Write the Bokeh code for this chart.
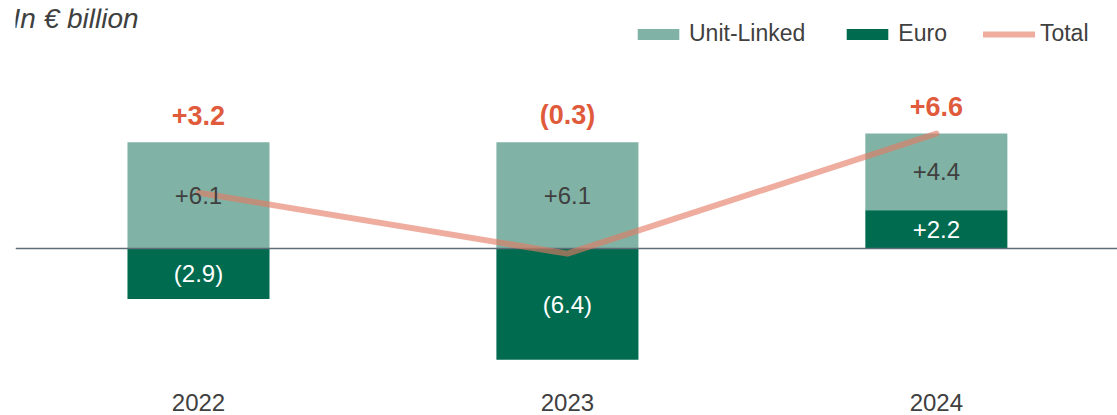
from bokeh.plotting import figure
from bokeh.models import ColumnDataSource, Range1d, FixedTicker, Label, Legend, LegendItem
from bokeh.embed import file_html
from bokeh.resources import INLINE
from bokeh.core.properties import value

# ---- data ----
years = ["2022", "2023", "2024"]
unit_linked = [6.1, 6.1, 4.4]
euro = [-2.9, -6.4, 2.2]
total = [3.2, -0.3, 6.6]

UL_COLOR = "#80B3A5"
EURO_COLOR = "#006B4F"
TOTAL_COLOR = "#E47B63"
LABEL_RED = "#E05A3C"
TEXT_DARK = "#404040"
FONT = "Liberation Sans"


def fmt(v):
    return f"+{v:.1f}" if v >= 0 else f"({abs(v):.1f})"


x = list(range(len(years)))
euro_bottom = [0.0] * len(euro)
euro_top = euro[:]
ul_bottom = [max(e, 0.0) for e in euro]
ul_top = [b + u for b, u in zip(ul_bottom, unit_linked)]

src = ColumnDataSource(dict(
    x=x,
    euro_bottom=euro_bottom, euro_top=euro_top,
    ul_bottom=ul_bottom, ul_top=ul_top,
    euro_mid=[(a + b) / 2 for a, b in zip(euro_bottom, euro_top)],
    ul_mid=[(a + b) / 2 for a, b in zip(ul_bottom, ul_top)],
    euro_lbl=[fmt(v) for v in euro],
    ul_lbl=[fmt(v) for v in unit_linked],
    total=total,
    total_lbl=[fmt(v) for v in total],
    stack_top=[max(t, 0.0) for t in ul_top],
))

p = figure(width=1117, height=415, output_backend="svg", toolbar_location=None,
           x_range=Range1d(-0.496, 2.491), y_range=Range1d(-7.59, 13.79),
           min_border_left=15, min_border_right=0, min_border_top=8, min_border_bottom=35)
p.outline_line_color = None
p.grid.visible = False
p.yaxis.visible = False
p.background_fill_color = "white"

bw = 0.385
r_ul = p.vbar(x="x", bottom="ul_bottom", top="ul_top", width=bw, source=src,
              fill_color=UL_COLOR, line_color=None)
r_eu = p.vbar(x="x", bottom="euro_bottom", top="euro_top", width=bw, source=src,
              fill_color=EURO_COLOR, line_color=None)
p.hspan(y=[0], line_color="#5E6E78", line_width=1.5)
r_tot = p.line(x="x", y="total", source=src, line_color=TOTAL_COLOR, line_width=6,
               line_alpha=0.62, line_cap="round", line_join="round")

p.text(x="x", y="ul_mid", text="ul_lbl", source=src, text_align="center",
       text_baseline="middle", text_font=value(FONT), text_font_size="24px",
       text_color=TEXT_DARK)
p.text(x="x", y="euro_mid", text="euro_lbl", source=src, text_align="center",
       text_baseline="middle", text_font=value(FONT), text_font_size="24px",
       text_color="white")
p.text(x="x", y="stack_top", text="total_lbl", source=src, text_align="center",
       text_baseline="middle", y_offset=-27, text_font=value(FONT), text_font_size="27px",
       text_font_style="bold", text_color=LABEL_RED)

xa = p.xaxis[0]
xa.ticker = FixedTicker(ticks=x)
xa.major_label_overrides = {i: y for i, y in enumerate(years)}
xa.axis_line_color = None
xa.major_tick_line_color = None
xa.minor_tick_line_color = None
xa.major_label_standoff = 7
xa.major_label_text_font = FONT
xa.major_label_text_font_size = "24px"
xa.major_label_text_color = TEXT_DARK

p.add_layout(Label(x=-3, y=362, x_units="screen", y_units="screen", text="In € billion",
                   text_font=FONT, text_font_size="28px", text_font_style="italic",
                   text_color=TEXT_DARK, text_baseline="middle"))

legend = Legend(items=[
    LegendItem(label="Unit-Linked", renderers=[r_ul]),
    LegendItem(label="Euro", renderers=[r_eu]),
    LegendItem(label="Total", renderers=[r_tot]),
], orientation="horizontal", location=(617, 333), glyph_width=52, glyph_height=14,
    label_standoff=5, spacing=36, padding=0, margin=0, border_line_color=None,
    background_fill_alpha=0, label_text_font=FONT, label_text_font_size="23px",
    label_text_color=TEXT_DARK)
p.add_layout(legend)

open("out.html", "w").write(file_html(p, INLINE))
